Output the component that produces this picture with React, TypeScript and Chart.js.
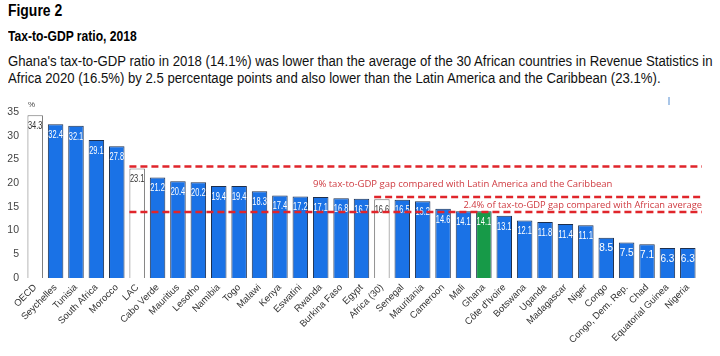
import React, { useEffect, useRef } from "react";
import { Chart, registerables } from "chart.js";

Chart.register(...registerables);

const categories = [
  "OECD", "Seychelles", "Tunisia", "South Africa", "Morocco", "LAC", "Cabo Verde",
  "Mauritius", "Lesotho", "Namibia", "Togo", "Malawi", "Kenya", "Eswatini", "Rwanda",
  "Burkina Faso", "Egypt", "Africa (30)", "Senegal", "Mauritania", "Cameroon", "Mali",
  "Ghana", "Côte d'Ivoire", "Botswana", "Uganda", "Madagascar", "Niger", "Congo",
  "Congo, Dem. Rep.", "Chad", "Equatorial Guinea", "Nigeria",
];

const taxToGdp = [
  34.3, 32.4, 32.1, 29.1, 27.8, 23.1, 21.2, 20.4, 20.2, 19.4, 19.4, 18.3, 17.4, 17.2,
  17.1, 16.8, 16.7, 16.6, 16.5, 16.2, 14.6, 14.1, 14.1, 13.1, 12.1, 11.8, 11.4, 11.1,
  8.5, 7.5, 7.1, 6.3, 6.3,
];

const benchmarkCategories = ["OECD", "LAC", "Africa (30)"];
const highlightCategory = "Ghana";

const yTicks = [0, 5, 10, 15, 20, 25, 30, 35];

// reference (dashed) lines: level and the category where each starts
const gapLineValues = [23.5, 17.1, 13.9];
const gapLineStarts = ["LAC", "Africa (30)", "LAC"];

const gapLabels = [
  "9% tax-to-GDP gap compared with Latin America and the Caribbean",
  "2.4% of tax-to-GDP gap compared with African average",
];
const gapLabelValues = [19.8, 15.4];
const gapLabelStarts = ["Rwanda", "Mali"];

const BLUE = "#1a72e6";
const GREEN = "#179a48";
const RED = "#e0252b";
const TEXT_RED = "#cf3a40";
const SANS = "'Liberation Sans', Arial, sans-serif";

const overlayPlugin = {
  id: "overlay",
  afterDatasetsDraw(chart: any) {
    const { ctx, chartArea, scales } = chart;
    const y = scales.y;
    const meta = chart.getDatasetMeta(0);
    ctx.save();
    // data labels
    meta.data.forEach((bar: any, i: number) => {
      const cat = categories[i];
      const isBench = benchmarkCategories.includes(cat);
      ctx.fillStyle = isBench ? "#333333" : "#ffffff";
      ctx.font = "10px " + SANS;
      ctx.textAlign = "center";
      ctx.textBaseline = "middle";
      ctx.fillText(taxToGdp[i].toFixed(1), bar.x, bar.y + 11, 14.5);
    });
    // dashed lines
    ctx.strokeStyle = RED;
    ctx.lineWidth = 2.5;
    ctx.setLineDash([7, 4]);
    gapLineValues.forEach((v, i) => {
      const idx = categories.indexOf(gapLineStarts[i]);
      const bar = meta.data[idx];
      const x0 = bar.x - bar.width / 2;
      const yy = y.getPixelForValue(v);
      ctx.beginPath();
      ctx.moveTo(x0, yy);
      ctx.lineTo(chartArea.right + 4, yy);
      ctx.stroke();
    });
    ctx.setLineDash([]);
    // gap texts
    ctx.fillStyle = TEXT_RED;
    ctx.font = "9.5px 'Open Sans', 'Noto Sans', sans-serif";
    ctx.textAlign = "left";
    ctx.textBaseline = "middle";
    gapLabels.forEach((t, i) => {
      const idx = categories.indexOf(gapLabelStarts[i]);
      const bx = i === 0 ? meta.data[idx].x - meta.data[idx].width / 2 : meta.data[idx].x;
      const maxW = chartArea.right + 4 - bx;
      ctx.fillText(t, bx, y.getPixelForValue(gapLabelValues[i]), maxW);
    });
    // % unit
    ctx.fillStyle = "#444";
    ctx.font = "8px " + SANS;
    ctx.textAlign = "left";
    ctx.fillText("%", chartArea.left + 3, y.getPixelForValue(35) - 7);
    ctx.restore();
  },
};

function ChartView() {
  const ref = useRef<HTMLCanvasElement | null>(null);
  useEffect(() => {
    if (!ref.current) return;
    const chart = new Chart(ref.current, {
      type: "bar",
      data: {
        labels: categories,
        datasets: [
          {
            data: taxToGdp,
            backgroundColor: categories.map((c) =>
              benchmarkCategories.includes(c) ? "#ffffff" : c === highlightCategory ? GREEN : BLUE
            ),
            borderColor: categories.map((c) =>
              benchmarkCategories.includes(c) ? "#707070" : "#1d2f4d"
            ),
            borderWidth: 1,
            barPercentage: 0.76,
            categoryPercentage: 1,
          },
        ],
      },
      options: {
        animation: false,
        responsive: false,
        maintainAspectRatio: false,
        layout: { padding: { top: 17, right: 22, left: 0, bottom: 0 } },
        plugins: {
          legend: { display: false },
          tooltip: { enabled: false },
          title: { display: false },
        },
        scales: {
          x: {
            grid: { display: false, drawTicks: false },
            border: { display: false },
            ticks: {
              autoSkip: false,
              minRotation: 45,
              maxRotation: 45,
              padding: 4,
              color: "#333",
              font: { size: 9.5, family: SANS },
            },
            afterFit: (s: any) => {
              s.height = 78;
            },
          },
          y: {
            min: 0,
            max: 35,
            grid: { display: false, drawTicks: false },
            border: { display: false },
            afterBuildTicks: (s: any) => {
              s.ticks = yTicks.map((v) => ({ value: v }));
            },
            ticks: {
              padding: 6,
              color: "#444",
              font: { size: 10.5, family: SANS },
            },
            afterFit: (s: any) => {
              s.width = 25;
            },
          },
        },
      },
      plugins: [overlayPlugin],
    });
    return () => chart.destroy();
  }, []);
  return <canvas ref={ref} width={720} height={261} style={{ display: "block" }} />;
}

export default function App() {
  useEffect(() => {
    document.body.style.margin = "0";
  }, []);
  const squeeze = (s: number): React.CSSProperties => ({
    transform: `scaleX(${s})`,
    transformOrigin: "0 0",
  });
  return (
    <div
      style={{
        position: "fixed",
        left: 0,
        top: 0,
        width: 720,
        height: 356,
        background: "#fff",
        overflow: "hidden",
        fontFamily: SANS,
        color: "#000",
      }}
    >
      <div style={{ position: "absolute", left: 8, top: 3, fontSize: 16, fontWeight: 700, lineHeight: 1, whiteSpace: "nowrap", ...squeeze(0.87) }}>
        Figure 2
      </div>
      <div style={{ position: "absolute", left: 8, top: 29, fontSize: 14, fontWeight: 700, lineHeight: 1, whiteSpace: "nowrap", ...squeeze(0.865) }}>
        Tax-to-GDP ratio, 2018
      </div>
      <div style={{ position: "absolute", left: 8, top: 53, fontSize: 14, lineHeight: "17px", whiteSpace: "nowrap", color: "#111", ...squeeze(0.94) }}>
        <div>
          Ghana's tax-to-GDP ratio in 2018 (14.1%) was lower than the average of the 30 African countries in Revenue Statistics in
        </div>
        <div>
          Africa 2020 (16.5%) by 2.5 percentage points and also lower than the Latin America and the Caribbean (23.1%).
        </div>
      </div>
      <div style={{ position: "absolute", left: 668, top: 97, width: 2, height: 8, background: "#a9c6e8" }} />
      <div style={{ position: "absolute", left: 0, top: 95 }}>
        <ChartView />
      </div>
    </div>
  );
}
